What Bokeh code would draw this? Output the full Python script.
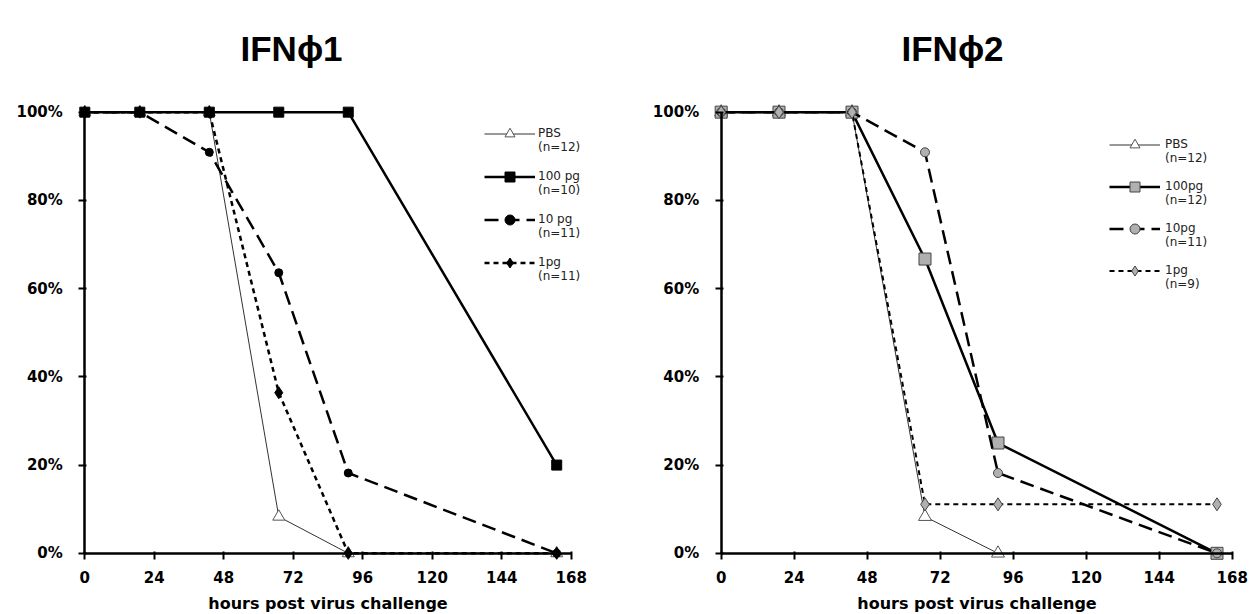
from bokeh.plotting import figure
from bokeh.models import (Range1d, LinearAxis, FixedTicker, PrintfTickFormatter,
                          Legend, LegendItem, Title)
from bokeh.layouts import row
from bokeh.embed import file_html
from bokeh.resources import INLINE

# ---------------- data ----------------
hours = [0, 19, 43, 67, 91, 163]
x_ticks = [0, 24, 48, 72, 96, 120, 144, 168]
y_ticks = [0, 20, 40, 60, 80, 100]

ifn1_pbs = [100, 100, 100, 8.3, 0, 0]
ifn1_100pg = [100, 100, 100, 100, 100, 20]
ifn1_10pg = [100, 100, 90.9, 63.6, 18.2, 0]
ifn1_1pg = [100, 100, 100, 36.4, 0, 0]
ifn1_labels = ["PBS\n(n=12)", "100 pg\n(n=10)", "10 pg\n(n=11)", "1pg\n(n=11)"]

ifn2_hours_pbs = [0, 19, 43, 67, 91]
ifn2_pbs = [100, 100, 100, 8.3, 0]
ifn2_100pg = [100, 100, 100, 66.7, 25, 0]
ifn2_10pg = [100, 100, 100, 90.9, 18.2, 0]
ifn2_1pg = [100, 100, 100, 11.1, 11.1, 11.1]
ifn2_labels = ["PBS\n(n=12)", "100pg\n(n=12)", "10pg\n(n=11)", "1pg\n(n=9)"]

TICK_FONT = "DejaVu Sans"
FIG_H = 612


def make_panel(title, title_offset, width, x_range, y_range, series,
               labels, legend_loc, legend_spacing, label_standoff):
    p = figure(width=width, height=FIG_H, x_range=Range1d(*x_range),
               y_range=Range1d(*y_range), x_axis_location=None,
               y_axis_location=None, toolbar_location=None,
               output_backend="svg", min_border_left=0,
               min_border_right=0, min_border_top=93,
               min_border_bottom=0)
    p.outline_line_color = None
    p.xgrid.visible = False
    p.ygrid.visible = False
    p.title = Title(text=title, align="left", offset=title_offset,
                    text_font="Liberation Sans", text_font_style="bold",
                    text_font_size="35px", text_color="black", standoff=53)

    xaxis = LinearAxis(fixed_location=0, bounds=(0, 168),
                       ticker=FixedTicker(ticks=x_ticks),
                       axis_label="hours post virus challenge")
    yaxis = LinearAxis(fixed_location=0, bounds=(0, 100),
                       ticker=FixedTicker(ticks=y_ticks),
                       formatter=PrintfTickFormatter(format="%d%%"))
    for ax in (xaxis, yaxis):
        ax.axis_line_width = 2.5
        ax.axis_line_color = "black"
        ax.major_tick_line_width = 2
        ax.major_tick_in = 2
        ax.major_tick_out = 6
        ax.minor_tick_line_color = None
        ax.major_label_text_font = TICK_FONT
        ax.major_label_text_font_style = "bold"
        ax.major_label_text_font_size = "15px"
        ax.major_label_text_color = "black"
    xaxis.major_label_standoff = 12
    yaxis.major_label_standoff = 16
    xaxis.axis_label_text_font = TICK_FONT
    xaxis.axis_label_text_font_style = "bold"
    xaxis.axis_label_text_font_size = "16px"
    xaxis.axis_label_text_color = "black"
    xaxis.axis_label_standoff = 7
    p.add_layout(xaxis, "below")
    p.add_layout(yaxis, "left")

    items = []
    for (xs, ys, lw, dash, lcolor, marker, size, mfill, mline), lab in zip(series, labels):
        ln = p.line(xs, ys, line_width=lw, line_dash=dash, line_color=lcolor)
        sc = p.scatter(xs, ys, marker=marker, size=size, fill_color=mfill,
                       line_color=mline, line_width=1)
        items.append(LegendItem(label=" \n" + lab, renderers=[ln, sc]))

    legend = Legend(items=items, location=legend_loc, glyph_width=51,
                    glyph_height=25, label_standoff=label_standoff,
                    spacing=legend_spacing, padding=0, margin=0,
                    border_line_color=None, background_fill_alpha=0,
                    label_text_font=TICK_FONT, label_text_font_size="12px",
                    label_text_color="#222222")
    p.add_layout(legend)
    return p


left_series = [
    (hours, ifn1_pbs, 1, "solid", "#333333", "triangle", 12, "white", "#555555"),
    (hours, ifn1_10pg, 2.5, "14 7", "black", "circle", 8, "black", "black"),
    (hours, ifn1_1pg, 2.5, "5 4", "black", "diamond", 12, "black", "black"),
    (hours, ifn1_100pg, 2.5, "solid", "black", "square", 10, "black", "black"),
]
left_labels = [ifn1_labels[0], ifn1_labels[2], ifn1_labels[3], ifn1_labels[1]]

right_series = [
    (ifn2_hours_pbs, ifn2_pbs, 1, "solid", "#333333", "triangle", 13, "white", "#555555"),
    (hours, ifn2_100pg, 2.5, "solid", "black", "square", 12, "#b0b0b0", "#444444"),
    (hours, ifn2_10pg, 2.5, "14 7", "black", "circle", 9, "#b0b0b0", "#444444"),
    (hours, ifn2_1pg, 2, "5 4", "black", "diamond", 13, "#b0b0b0", "#444444"),
]

# left panel: 2.895 px/hour, right panel: 3.042 px/hour, 4.42 px per %
p1 = make_panel("IFN\u03d51", 240, 630, (-29.12, 188.49), (-13.42, 104.0),
                left_series, left_labels, (484, 329), 1, 3)
it = p1.legend[0].items
p1.legend[0].items = [it[0], it[3], it[1], it[2]]

p2 = make_panel("IFN\u03d52", 271, 625, (-29.82, 175.66), (-13.42, 104.0),
                right_series, ifn2_labels, (479, 321), 0, 5)

layout = row(p1, p2)
open("out.html", "w").write(file_html(layout, INLINE))
